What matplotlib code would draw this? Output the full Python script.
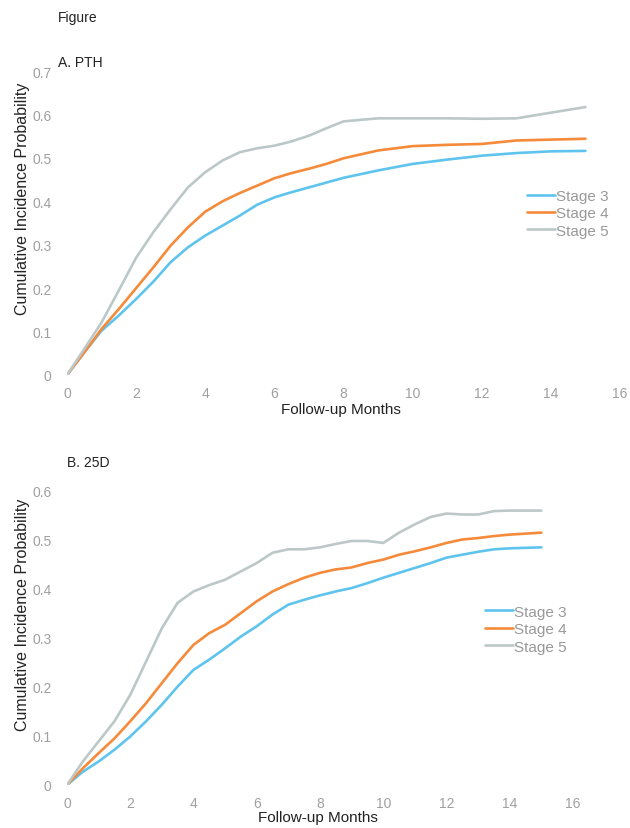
import matplotlib
matplotlib.use("Agg")
import matplotlib.pyplot as plt

plt.rcParams['font.family'] = ['Liberation Sans', 'DejaVu Sans']

# A. PTH - follow-up months and cumulative incidence
months_a = [0, 0.5, 1, 1.5, 2, 2.5, 3, 3.5, 4, 4.5, 5, 5.5, 6, 6.5, 7, 7.5, 8,
            9, 10, 11, 12, 13, 14, 15]
pth_stage3 = [0, 0.052, 0.102, 0.137, 0.175, 0.215, 0.26, 0.294, 0.321, 0.344, 0.367, 0.392,
              0.409, 0.421, 0.432, 0.443, 0.454, 0.471, 0.486, 0.496, 0.505, 0.511, 0.515, 0.516]
pth_stage4 = [0, 0.052, 0.106, 0.152, 0.2, 0.248, 0.298, 0.34, 0.376, 0.4, 0.419, 0.436,
              0.453, 0.465, 0.475, 0.486, 0.499, 0.517, 0.527, 0.53, 0.532, 0.54, 0.542, 0.544]
pth_stage5 = [0, 0.06, 0.121, 0.195, 0.27, 0.329, 0.382, 0.432, 0.467, 0.494, 0.513, 0.522,
              0.528, 0.538, 0.551, 0.568, 0.584, 0.591, 0.591, 0.591, 0.59, 0.591, 0.604, 0.617]

# B. 25D
months_b = [0, 0.5, 1, 1.5, 2, 2.5, 3, 3.5, 4, 4.5, 5, 5.5, 6, 6.5, 7, 7.5, 8, 8.5,
            9, 9.5, 10, 10.5, 11, 11.5, 12, 12.5, 13, 13.5, 14, 14.5, 15]
d25_stage3 = [0, 0.027, 0.048, 0.072, 0.099, 0.13, 0.164, 0.201, 0.235, 0.256, 0.279, 0.303,
              0.324, 0.348, 0.368, 0.378, 0.387, 0.395, 0.402, 0.412, 0.423, 0.433, 0.443,
              0.453, 0.464, 0.47, 0.476, 0.481, 0.483, 0.484, 0.485]
d25_stage4 = [0, 0.034, 0.065, 0.095, 0.13, 0.167, 0.208, 0.249, 0.286, 0.31, 0.327, 0.351,
              0.375, 0.395, 0.41, 0.423, 0.433, 0.44, 0.444, 0.453, 0.46, 0.47, 0.477,
              0.485, 0.494, 0.501, 0.504, 0.508, 0.511, 0.513, 0.515]
d25_stage5 = [0, 0.048, 0.089, 0.13, 0.184, 0.252, 0.32, 0.372, 0.395, 0.408, 0.419, 0.436,
              0.453, 0.474, 0.481, 0.481, 0.485, 0.492, 0.498, 0.498, 0.494, 0.515, 0.532,
              0.547, 0.554, 0.552, 0.552, 0.559, 0.56, 0.56, 0.56]

stages = ['Stage 3', 'Stage 4', 'Stage 5']
colors = ['#5ec4ee', '#f58a3a', '#bcc8c8']
tick_color = '#a0a0a0'

fig = plt.figure(figsize=(6.3, 8.29), dpi=100)

fig.text(58 / 630, 1 - 18 / 829, 'Figure', fontsize=10, va='center', ha='left', color='#222222')
fig.text(58 / 630, 1 - 63 / 829, 'A. PTH', fontsize=10, va='center', ha='left', color='#222222')
fig.text(67 / 630, 1 - 463 / 829, 'B. 25D', fontsize=10, va='center', ha='left', color='#222222')


def draw_panel(ax, months, series, ymax, xlab_y, ylab_x, leg_anchor):
    for vals, lab, col in zip(series, stages, colors):
        ax.plot(months, vals, color=col, lw=1.9, label=lab,
                solid_joinstyle='round', solid_capstyle='round')
    ax.set_xlim(0, 16)
    ax.set_ylim(0, ymax)
    ax.set_xticks(range(0, 17, 2))
    yt = [i / 10 for i in range(int(round(ymax * 10)) + 1)]
    ax.set_yticks(yt)
    ax.set_yticklabels(['0'] + [f'{v:.1f}' for v in yt[1:]])
    for s in ax.spines.values():
        s.set_visible(False)
    ax.tick_params(length=0, colors=tick_color, labelsize=10)
    ax.tick_params(axis='y', pad=11)
    ax.tick_params(axis='x', pad=8)
    ax.set_xlabel('Follow-up Months', fontsize=11, color='#222222')
    ax.set_ylabel('Cumulative Incidence Probability', fontsize=11.5, color='#222222')
    ax.xaxis.set_label_coords(0.495, xlab_y)
    ax.yaxis.set_label_coords(ylab_x, 0.583)
    leg = ax.legend(loc='center left', bbox_to_anchor=leg_anchor, frameon=False,
                    fontsize=11, handlelength=1.85, handletextpad=0.05,
                    labelspacing=0.22, borderpad=0, borderaxespad=0)
    for t in leg.get_texts():
        t.set_color('#999999')


axA = fig.add_axes([67 / 630, 1 - 376 / 829, 553 / 630, 304 / 829])
draw_panel(axA, months_a, [pth_stage3, pth_stage4, pth_stage5], 0.7, -0.089, -0.067,
           (0.832, 0.532))

axB = fig.add_axes([67 / 630, 1 - 786 / 829, 506 / 630, 294 / 829])
draw_panel(axB, months_b, [d25_stage3, d25_stage4, d25_stage5], 0.6, -0.085, -0.073,
           (0.826, 0.53))

fig.savefig('out.png', dpi=100)
